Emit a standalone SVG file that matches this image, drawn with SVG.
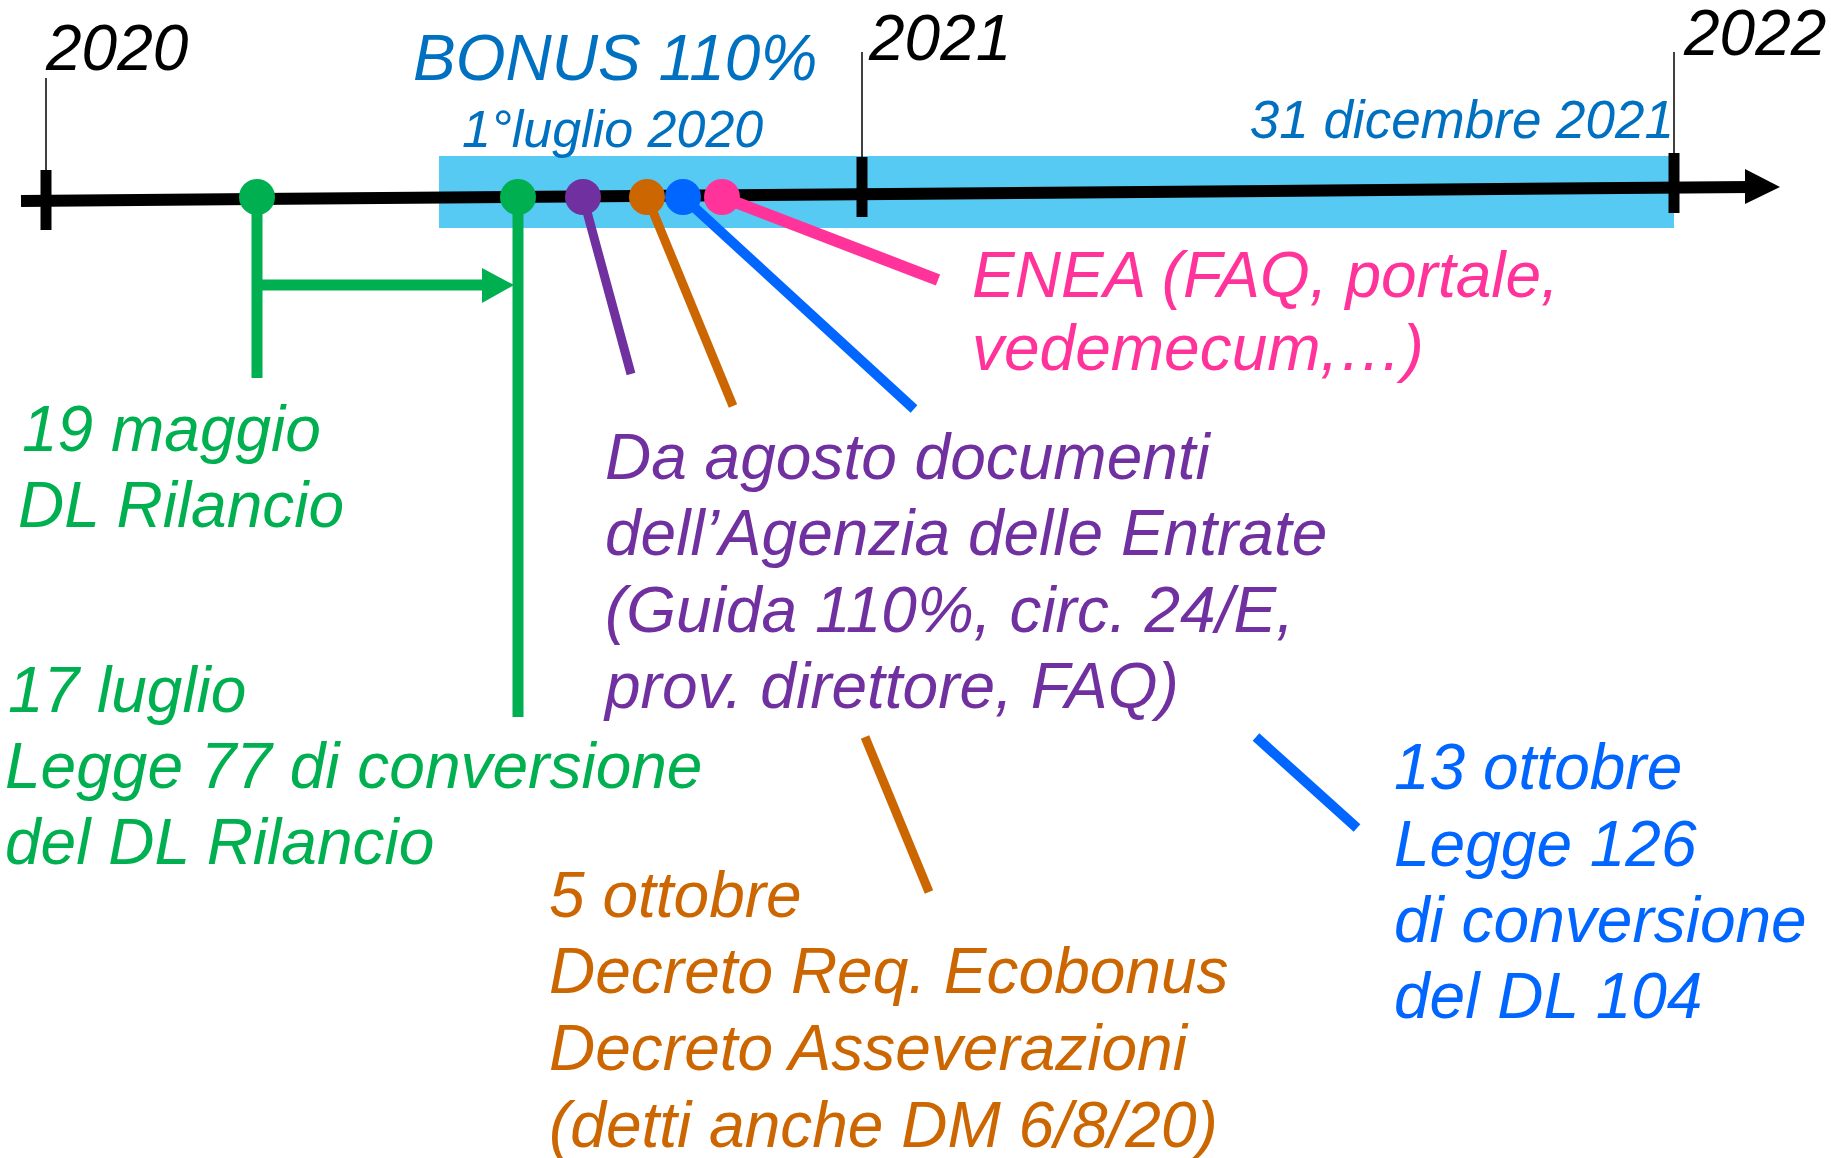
<svg xmlns="http://www.w3.org/2000/svg" width="1831" height="1158" viewBox="0 0 1831 1158">
<style>
text{font-family:"Liberation Sans",Arial,sans-serif;font-style:italic}
.lbl{font-size:64px}
.yr{font-size:64px;fill:#000}
.thin{stroke:#000;stroke-width:1.5}
.tick{stroke:#000;stroke-width:11}
.green{fill:#00B050}
.gs{stroke:#00B050;stroke-width:11;fill:none}
</style>
<rect width="1831" height="1158" fill="#fff"/>
<g id="bonus-period">
<rect x="439" y="156" width="1235" height="72" fill="#57CAF4"/>
<text x="413" y="80" font-size="64" fill="#0070C0">BONUS 110%</text>
<text x="462" y="147" font-size="52" fill="#0070C0">1°luglio 2020</text>
<text x="1674" y="138" font-size="53" fill="#0070C0" text-anchor="end">31 dicembre 2021</text>
</g>
<g id="axis">
<line x1="21" y1="201" x2="1752" y2="187" stroke="#000" stroke-width="12"/>
<polygon points="1745,169 1780,187 1745,204" fill="#000"/>
</g>
<g id="year-2020">
<line class="thin" x1="46" y1="78" x2="46" y2="170"/>
<line class="tick" x1="46" y1="170" x2="46" y2="230"/>
<text class="yr" x="46" y="70">2020</text>
</g>
<g id="year-2021">
<line class="thin" x1="862" y1="52" x2="862" y2="157"/>
<line class="tick" x1="862" y1="157" x2="862" y2="217"/>
<text class="yr" x="869" y="60">2021</text>
</g>
<g id="year-2022">
<line class="thin" x1="1674" y1="52" x2="1674" y2="153"/>
<line class="tick" x1="1674" y1="153" x2="1674" y2="213"/>
<text class="yr" x="1684" y="55">2022</text>
</g>
<g id="connectors">
<line class="gs" x1="257" y1="197" x2="257" y2="378"/>
<line class="gs" x1="257" y1="285" x2="486" y2="285"/>
<polygon class="green" points="482,268 514,285 482,303"/>
<line class="gs" x1="518" y1="197" x2="518" y2="717"/>
<line x1="583" y1="197" x2="631" y2="374" stroke="#7030A0" stroke-width="9"/>
<line x1="647" y1="197" x2="733" y2="406" stroke="#CC6600" stroke-width="9"/>
<line x1="865" y1="737" x2="929" y2="892" stroke="#CC6600" stroke-width="9"/>
<line x1="683" y1="197" x2="914" y2="409" stroke="#0066FF" stroke-width="10"/>
<line x1="1256" y1="737" x2="1357" y2="828" stroke="#0066FF" stroke-width="10"/>
<line x1="722" y1="197" x2="938" y2="280" stroke="#FF3399" stroke-width="12"/>
</g>
<g id="node-dl-rilancio">
<circle cx="257" cy="197" r="18" fill="#00B050"/>
<text class="lbl green" x="22" y="451">19 maggio</text>
<text class="lbl green" x="18" y="527">DL Rilancio</text>
</g>
<g id="node-legge-77">
<circle cx="518" cy="197" r="18" fill="#00B050"/>
<text class="lbl green" x="8" y="712">17 luglio</text>
<text class="lbl green" x="5" y="788">Legge 77 di conversione</text>
<text class="lbl green" x="5" y="864">del DL Rilancio</text>
</g>
<g id="node-agenzia">
<circle cx="583" cy="197" r="18" fill="#7030A0"/>
<text class="lbl" fill="#7030A0" x="605" y="479">Da agosto documenti</text>
<text class="lbl" fill="#7030A0" x="605" y="555">dell’Agenzia delle Entrate</text>
<text class="lbl" fill="#7030A0" x="605" y="632">(Guida 110%, circ. 24/E,</text>
<text class="lbl" fill="#7030A0" x="605" y="708">prov. direttore, FAQ)</text>
</g>
<g id="node-decreti">
<circle cx="647" cy="197" r="18" fill="#CC6600"/>
<text class="lbl" fill="#CC6600" x="549" y="917">5 ottobre</text>
<text class="lbl" fill="#CC6600" x="549" y="993">Decreto Req. Ecobonus</text>
<text class="lbl" fill="#CC6600" x="549" y="1070">Decreto Asseverazioni</text>
<text class="lbl" fill="#CC6600" x="549" y="1147">(detti anche DM 6/8/20)</text>
</g>
<g id="node-legge-126">
<circle cx="683" cy="197" r="18" fill="#0066FF"/>
<text class="lbl" fill="#0066FF" x="1394" y="789">13 ottobre</text>
<text class="lbl" fill="#0066FF" x="1394" y="866">Legge 126</text>
<text class="lbl" fill="#0066FF" x="1394" y="942">di conversione</text>
<text class="lbl" fill="#0066FF" x="1394" y="1018">del DL 104</text>
</g>
<g id="node-enea">
<circle cx="722" cy="197" r="18" fill="#FF3399"/>
<text class="lbl" fill="#FF3399" x="972" y="297">ENEA (FAQ, portale,</text>
<text class="lbl" fill="#FF3399" x="972" y="370">vedemecum,…)</text>
</g>
</svg>
